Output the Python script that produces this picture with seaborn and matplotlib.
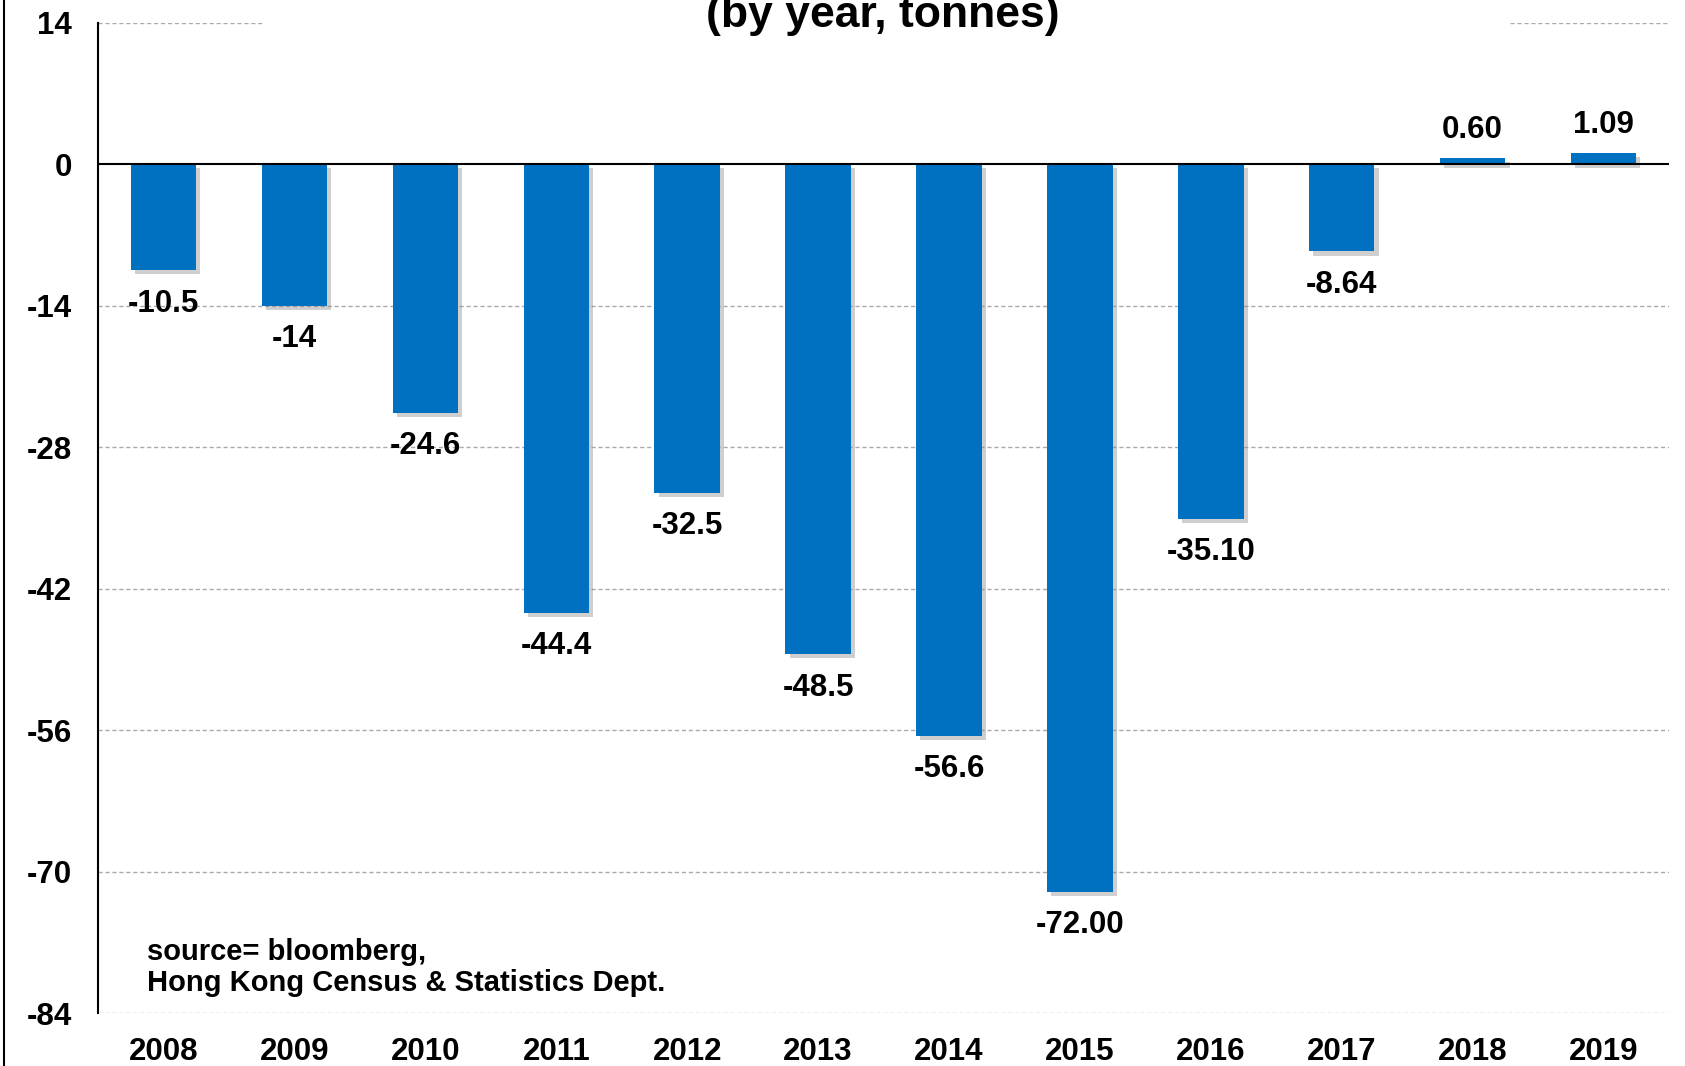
import matplotlib
matplotlib.use("Agg")
import matplotlib.pyplot as plt
import matplotlib.patheffects as pe
from matplotlib.lines import Line2D
import seaborn as sns
import pandas as pd

# data
years = ["2008", "2009", "2010", "2011", "2012", "2013",
         "2014", "2015", "2016", "2017", "2018", "2019"]
values = [-10.5, -14, -24.6, -44.4, -32.5, -48.5,
          -56.6, -72.00, -35.10, -8.64, 0.60, 1.09]
labels = ["-10.5", "-14", "-24.6", "-44.4", "-32.5", "-48.5",
          "-56.6", "-72.00", "-35.10", "-8.64", "0.60", "1.09"]
yticks = [14, 0, -14, -28, -42, -56, -70, -84]

df = pd.DataFrame({"year": years, "value": values})

sns.set_style("white")
plt.rcParams["font.family"] = ["Liberation Sans Narrow", "Liberation Sans", "DejaVu Sans"]
plt.rcParams["font.weight"] = "bold"
plt.rcParams["text.color"] = "black"
plt.rcParams["xtick.color"] = "black"
plt.rcParams["ytick.color"] = "black"
plt.rcParams["axes.unicode_minus"] = False

fig = plt.figure(figsize=(16.85, 10.66), dpi=100)
ax = fig.add_axes([0.0582, 0.0497, 0.9323, 0.929])

sns.barplot(data=df, x="year", y="value", color="#0070C0", saturation=1,
            width=0.5, linewidth=0, ax=ax, zorder=3)
for bar in ax.patches:
    bar.set_path_effects([pe.SimplePatchShadow(offset=(3, -3), shadow_rgbFace="#888888", alpha=0.4),
                          pe.Normal()])

ax.set_ylim(-84, 14)
ax.set_xlim(-0.5, 11.5)
ax.set_yticks(yticks)
ax.set_xlabel("")
ax.set_ylabel("")

# dashed grid; the top one is broken by the title
for t in yticks:
    if t == 0:
        ax.axhline(0, color="black", lw=1.5, zorder=4)
    elif t == 14:
        ax.axhline(t, xmin=0, xmax=0.105, color="#aaaaaa", lw=1, ls=(0, (3, 2)), zorder=1)
        ax.axhline(t, xmin=0.899, xmax=1, color="#aaaaaa", lw=1, ls=(0, (3, 2)), zorder=1)
    else:
        ax.axhline(t, color="#aaaaaa", lw=1, ls=(0, (3, 2)), zorder=1)

for s in ["top", "right", "bottom"]:
    ax.spines[s].set_visible(False)
ax.spines["left"].set_color("black")
ax.spines["left"].set_linewidth(1.5)

ax.tick_params(axis="both", length=0, labelsize=22.5)
ax.tick_params(axis="y", pad=19)
ax.tick_params(axis="x", pad=17)
for lab in ax.get_xticklabels() + ax.get_yticklabels():
    lab.set_fontweight("bold")

for i, (v, lab) in enumerate(zip(values, labels)):
    off = 20 if v > 0 else -24
    ax.annotate(lab, (i, v), xytext=(0, off), textcoords="offset points",
                ha="center", va="center", fontsize=22.5, fontweight="bold")

ax.text(0.031, 0.016, "source= bloomberg,\nHong Kong Census & Statistics Dept.",
        transform=ax.transAxes, fontsize=21, fontweight="bold",
        ha="left", va="bottom", linespacing=1.15)

fig.text(0.524, 0.9747, "(by year, tonnes)", ha="center", va="baseline",
         fontsize=32, fontweight="bold",
         family=["Liberation Sans", "DejaVu Sans"])

fig.add_artist(Line2D([0.0025, 0.0025], [0, 1], color="black", lw=1.5,
                      transform=fig.transFigure))

fig.savefig("out.png", dpi=100)
